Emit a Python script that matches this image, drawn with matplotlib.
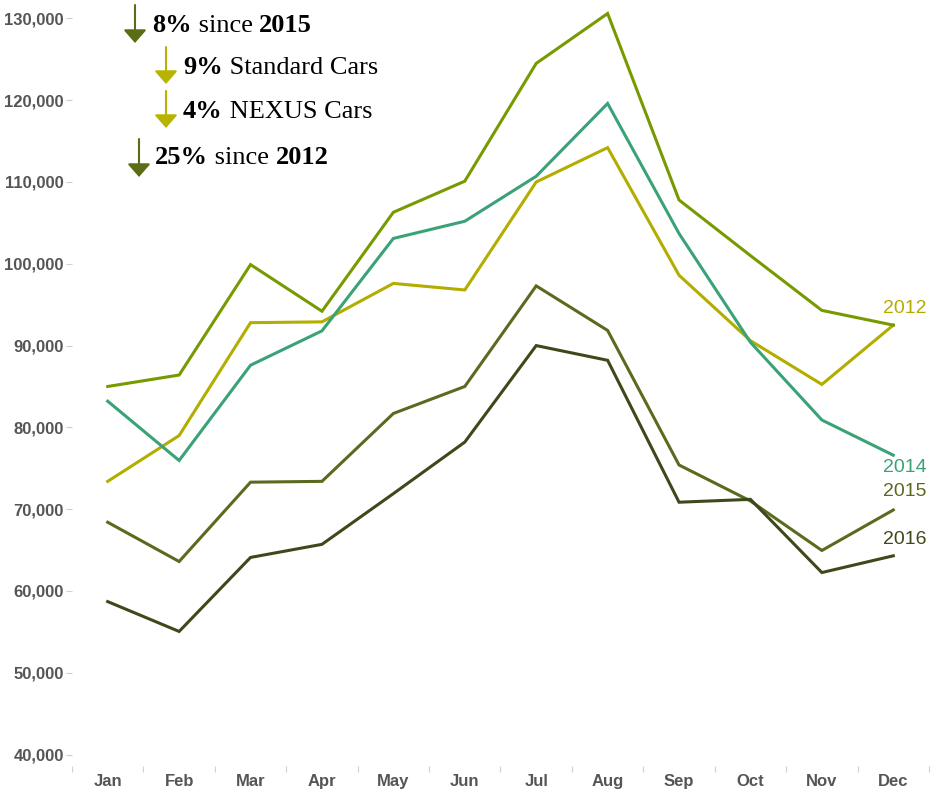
import matplotlib
matplotlib.use("Agg")
import matplotlib.pyplot as plt

plt.rcParams['font.family'] = ['Liberation Sans', 'DejaVu Sans']

months = ['Jan', 'Feb', 'Mar', 'Apr', 'May', 'Jun', 'Jul', 'Aug', 'Sep', 'Oct', 'Nov', 'Dec']
sales_2012 = [73400, 79000, 92800, 92900, 97600, 96800, 110000, 114200, 98600, 90600, 85250, 92500]
sales_2013 = [85000, 86400, 99900, 94200, 106300, 110100, 124500, 130600, 107800, 101000, 94300, 92500]
sales_2014 = [83200, 75950, 87600, 91800, 103100, 105200, 110700, 119600, 103700, 90400, 80900, 76600]
sales_2015 = [68400, 63600, 73300, 73400, 81700, 85000, 97300, 91850, 75400, 71000, 64950, 69900]
sales_2016 = [58700, 55050, 64100, 65700, 71900, 78200, 90000, 88200, 70850, 71200, 62250, 64300]
y_ticks = [40000, 50000, 60000, 70000, 80000, 90000, 100000, 110000, 120000, 130000]

# (values, colour, end label, label offset in points)
series = [
    (sales_2012, '#b3ad00', '2012', 12),
    (sales_2013, '#779a00', None, 0),
    (sales_2014, '#3aa277', '2014', -9),
    (sales_2015, '#5a6a1f', '2015', 13),
    (sales_2016, '#3e491b', '2016', 12),
]

fig = plt.figure(figsize=(9.36, 7.92), dpi=100)
ax = fig.add_axes([72 / 936, 26 / 792, 857 / 936, 766 / 792])

x = range(len(months))
for vals, col, lab, dy in series:
    ax.plot(x, vals, color=col, lw=2.2, solid_joinstyle='miter')
    if lab:
        ax.annotate(lab, xy=(11, vals[-1]), xytext=(8.6, dy), textcoords='offset points',
                    ha='center', va='center', fontsize=14, color=col)

ax.set_xlim(-0.5, 11.5)
ax.set_ylim(38600, 132250)
ax.set_xticks(list(x))
ax.set_xticklabels(months, fontsize=12, fontweight='bold', color='#555555')
ax.set_xticks([i - 0.5 for i in range(13)], minor=True)
ax.tick_params(axis='x', which='major', length=0, pad=6)
ax.tick_params(axis='x', which='minor', length=4, width=0.8, color='#d0d0d0')
ax.set_yticks(y_ticks)
ax.set_yticklabels([f'{v:,}' for v in y_ticks], fontsize=12, fontweight='bold', color='#555555')
ax.tick_params(axis='y', length=4, width=0.8, color='#d0d0d0', pad=2)
for s in ax.spines.values():
    s.set_visible(False)

# headline annotations with arrows (figure pixels, y measured from top)
serif = ['Liberation Serif', 'DejaVu Serif']
notes = [
    (152, 26, [('8%', 'bold'), (' since ', 'normal'), ('2015', 'bold')], 135, 5, 43, '#5a6d14'),
    (183, 68, [('9%', 'bold'), (' Standard Cars', 'normal')], 166, 47, 84, '#b8b300'),
    (183, 112, [('4%', 'bold'), (' NEXUS Cars', 'normal')], 166, 91, 128, '#b8b300'),
    (155, 158, [('25%', 'bold'), (' since ', 'normal'), ('2012', 'bold')], 139, 139, 177, '#5a6d14'),
]
for tx, ty, parts, ax_x, a_top, a_tip, acol in notes:
    t = None
    for txt, w in parts:
        if t is None:
            t = fig.text(tx / 936, 1 - ty / 792, txt, fontsize=19, fontweight=w, family=serif,
                         va='center', ha='left', color='black')
        else:
            t = ax.annotate(txt, xy=(1, 0), xycoords=t, va='bottom', ha='left', fontsize=19,
                            fontweight=w, family=serif, color='black', annotation_clip=False)
    ax.annotate('', xy=(ax_x, 792 - a_tip), xytext=(ax_x, 792 - a_top), xycoords='figure pixels',
                textcoords='figure pixels', annotation_clip=False,
                arrowprops=dict(arrowstyle='-|>,head_length=8,head_width=7', mutation_scale=1,
                                color=acol, lw=1.5, shrinkA=0, shrinkB=0))

fig.savefig('out.png', dpi=100)
